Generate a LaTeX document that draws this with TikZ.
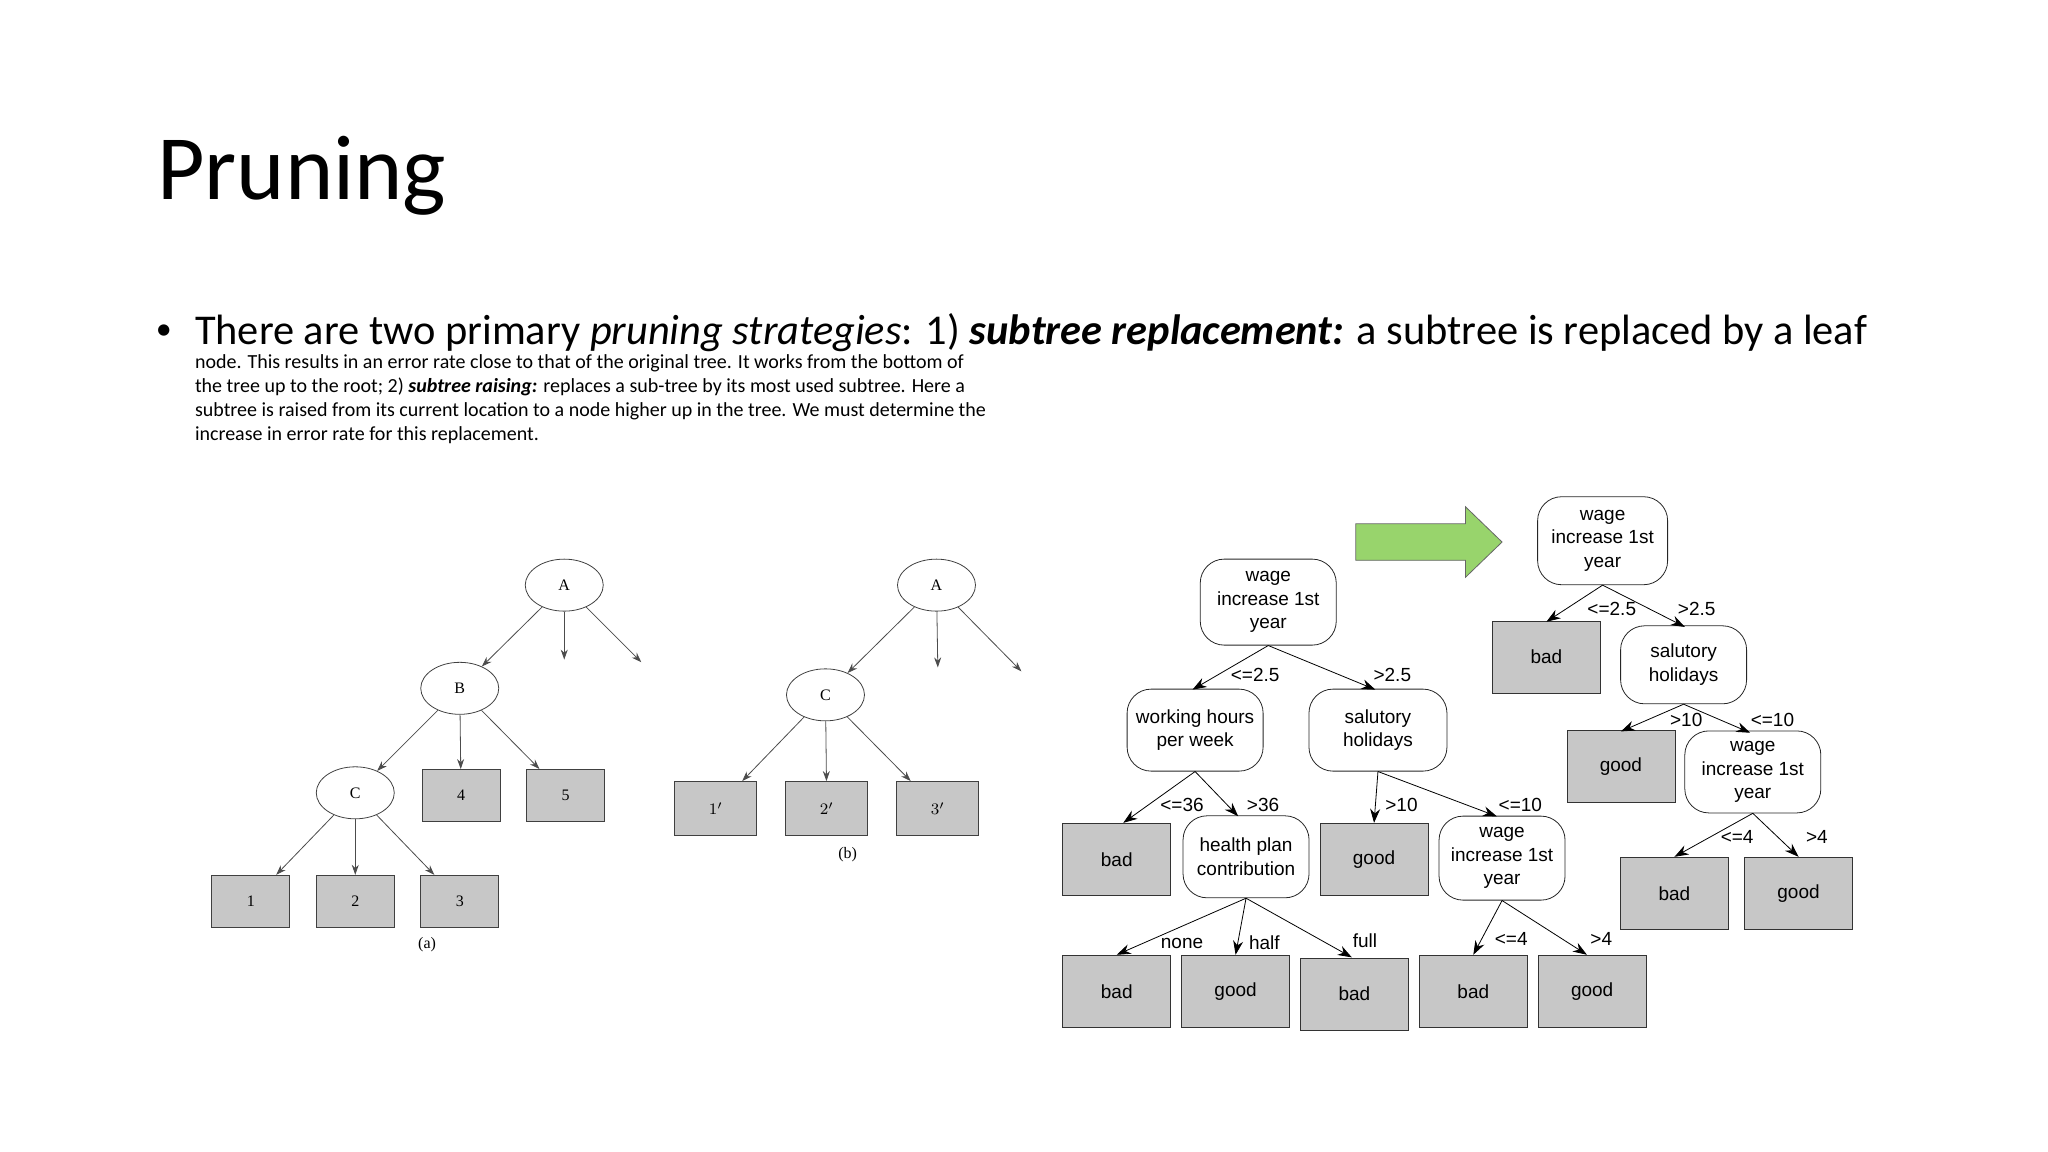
\documentclass[tikz,border=0pt]{standalone}
\usepackage{fontspec}
\setmainfont{Carlito}
\newfontfamily\lsans{Liberation Sans}
\newfontfamily\lserif{Liberation Serif}
\usetikzlibrary{arrows.meta,shapes.geometric}
\begin{document}
\begin{tikzpicture}[x=0.653pt,y=-0.653pt,
  circ/.style={draw=black!75,ellipse,minimum width=39pt,minimum height=26pt,inner sep=0pt,font=\lserif\fontsize{8}{9}\selectfont},
  sbox/.style={draw=black!75,fill=black!22,minimum width=39pt,minimum height=26pt,inner sep=0pt,font=\lserif\fontsize{8}{9}\selectfont},
  bbox/.style={draw=black!75,fill=black!22,minimum width=41pt,minimum height=27pt,inner sep=0pt,font=\lserif\fontsize{8}{9}\selectfont},
  leaf/.style={draw=black!80,fill=black!22,minimum width=54pt,minimum height=36pt,inner sep=0pt,font=\lsans\fontsize{9.5}{11.8}\selectfont},
  dec/.style={draw=black!85,rounded corners=12pt,align=center,inner sep=0pt,font=\lsans\fontsize{9.5}{11.8}\selectfont},
  lbl/.style={font=\lsans\fontsize{9.5}{11}\selectfont,inner sep=0pt},
  la/.style={draw=black!70,-{Stealth[length=5pt,width=3.5pt]}},
  ra/.style={draw=black,-{Stealth[length=7pt,width=5pt]}}]
\useasboundingbox (0,0) rectangle (1568,882);
% title and text
\node[anchor=base west,inner sep=0pt,font=\fontsize{46}{52}\selectfont] (title) at (120,153) {Pruning};
\node[anchor=base west,inner sep=0pt,font=\fontsize{16}{18}\selectfont] (bul) at (119,260) {•};
\node[anchor=north west,inner sep=0pt,align=left] (body) at (149,240) {\fontsize{21.2}{17.8}\selectfont There are two primary \emph{pruning strategies}: 1) \textbf{\emph{subtree replacement:}} a subtree is replaced by a leaf\\ node. This results in an error rate close to that of the original tree. It works from the bottom of\\ the tree up to the root; 2) \textbf{\emph{subtree raising:}} replaces a sub-tree by its most used subtree. Here a\\ subtree is raised from its current location to a node higher up in the tree. We must determine the\\ increase in error rate for this replacement.};
% tree (a)
\node[circ] (aA) at (432,448) {A};
\node[circ] (aB) at (352,527) {B};
\node[circ] (aC) at (272,607) {C};
\node[sbox] (a4) at (353,609) {4};
\node[sbox] (a5) at (433,609) {5};
\node[sbox] (a1) at (192,690) {1};
\node[sbox] (a2) at (272,690) {2};
\node[sbox] (a3) at (352,690) {3};
\coordinate (aX) at (432,505);
\coordinate (aY) at (491,507);
\node[font=\lserif\fontsize{8}{9}\selectfont] (acap) at (327,723) {(a)};
\draw[la] (aA) -- (aB);
\draw[la] (aA) -- (aX);
\draw[la] (aA) -- (aY);
\draw[la] (aB) -- (aC);
\draw[la] (aB) -- (a4);
\draw[la] (aB) -- (a5);
\draw[la] (aC) -- (a1);
\draw[la] (aC) -- (a2);
\draw[la] (aC) -- (a3);
% tree (b)
\node[circ] (bA) at (717,448) {A};
\node[circ] (bC) at (632,532) {C};
\node[bbox] (b1) at (548,619) {$1'$};
\node[bbox] (b2) at (633,619) {$2'$};
\node[bbox] (b3) at (718,619) {$3'$};
\coordinate (bX) at (718,511);
\coordinate (bY) at (782,514);
\node[font=\lserif\fontsize{8}{9}\selectfont] (bcap) at (649,654) {(b)};
\draw[la] (bA) -- (bC);
\draw[la] (bA) -- (bX);
\draw[la] (bA) -- (bY);
\draw[la] (bC) -- (b1);
\draw[la] (bC) -- (b2);
\draw[la] (bC) -- (b3);
% right tree 1
\node[dec,minimum width=68pt,minimum height=43pt] (r1) at (971,461) {wage\\increase 1st\\year};
\node[dec,minimum width=68pt,minimum height=41pt] (r2) at (915,559) {working hours\\per week};
\node[dec,minimum width=69pt,minimum height=41pt] (r3) at (1055,559) {salutory\\holidays};
\node[leaf] (r4) at (855,658) {bad};
\node[dec,minimum width=63pt,minimum height=41pt] (r5) at (954,656) {health plan\\contribution};
\node[leaf] (r6) at (1052,658) {good};
\node[dec,minimum width=63pt,minimum height=42pt] (r7) at (1150,657) {wage\\increase 1st\\year};
\node[leaf] (r8) at (855,759) {bad};
\node[leaf] (r9) at (946,759) {good};
\node[leaf] (r10) at (1037,761) {bad};
\node[leaf] (r11) at (1128,759) {bad};
\node[leaf] (r12) at (1219,759) {good};
\draw[ra] (r1.south) -- (913,528);
\draw[ra] (r1.south) -- (1053,528);
\draw[ra] (r2.south) -- (860,630);
\draw[ra] (r2.south) -- (948,625);
\draw[ra] (r3.south) -- (1052,630);
\draw[ra] (r3.south) -- (1146,625);
\draw[ra] (r5.south) -- (855,731);
\draw[ra] (r5.south) -- (946,731);
\draw[ra] (r5.south) -- (1035,733);
\draw[ra] (r7.south) -- (1128,731);
\draw[ra] (r7.south) -- (1215,731);
\node[lbl] (l1) at (961,517) {<=2.5};
\node[lbl] (l2) at (1066,517) {>2.5};
\node[lbl] (l3) at (905,616) {<=36};
\node[lbl] (l4) at (967,616) {>36};
\node[lbl] (l5) at (1073,616) {>10};
\node[lbl] (l6) at (1164,616) {<=10};
\node[lbl] (l7) at (905,722) {none};
\node[lbl] (l8) at (968,722) {half};
\node[lbl] (l9) at (1045,720) {full};
\node[lbl] (l10) at (1157,719) {<=4};
\node[lbl] (l11) at (1226,719) {>4};
% arrow
\draw[draw=black!60,fill={rgb,255:red,152;green,212;blue,108}] (1038,401) -- (1122,401) -- (1122,388) -- (1150,415) -- (1122,442) -- (1122,429) -- (1038,429) -- cycle;
% right tree 2
\node[dec,minimum width=65pt,minimum height=44pt] (s1) at (1227,414) {wage\\increase 1st\\year};
\node[leaf] (s2) at (1184,503) {bad};
\node[dec,minimum width=63pt,minimum height=39pt] (s3) at (1289,509) {salutory\\holidays};
\node[leaf] (s4) at (1241,587) {good};
\node[dec,minimum width=68pt,minimum height=41pt] (s5) at (1342,591) {wage\\increase 1st\\year};
\node[leaf] (s6) at (1282,684) {bad};
\node[leaf] (s7) at (1377,684) {good};
\draw[ra] (s1.south) -- (1184,476);
\draw[ra] (s1.south) -- (1290,480);
\draw[ra] (s3.south) -- (1241,560);
\draw[ra] (s3.south) -- (1340,561);
\draw[ra] (s5.south) -- (1282,656);
\draw[ra] (s5.south) -- (1377,656);
\node[lbl] (m1) at (1234,466) {<=2.5};
\node[lbl] (m2) at (1299,466) {>2.5};
\node[lbl] (m3) at (1291,551) {>10};
\node[lbl] (m4) at (1357,551) {<=10};
\node[lbl] (m5) at (1330,641) {<=4};
\node[lbl] (m6) at (1391,641) {>4};
\end{tikzpicture}
\end{document}
